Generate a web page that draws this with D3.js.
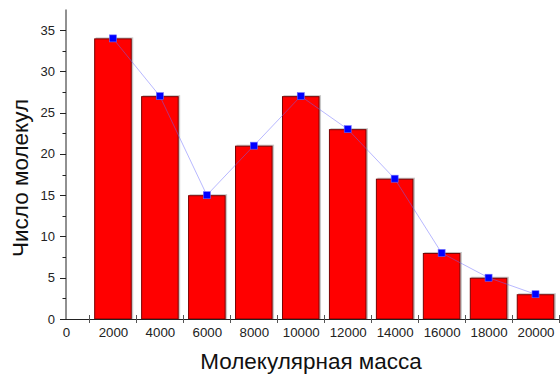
<!DOCTYPE html>
<html>
<head>
<meta charset="utf-8">
<script src="https://cdn.jsdelivr.net/npm/d3@7/dist/d3.min.js"></script>
<style>
  html, body { margin: 0; padding: 0; background: #fff; }
  svg { display: block; font-family: "Liberation Sans", Arial, sans-serif; }
</style>
</head>
<body>
<svg id="chart" width="560" height="374"></svg>
<script>
// Distribution of molecules by molecular mass
const masses = [2000, 4000, 6000, 8000, 10000, 12000, 14000, 16000, 18000, 20000];
const counts = [34, 27, 15, 21, 27, 23, 17, 8, 5, 3];
const xTickLabels = [0, 2000, 4000, 6000, 8000, 10000, 12000, 14000, 16000, 18000, 20000];
const xTickMarks = [1000, 3000, 5000, 7000, 9000, 11000, 13000, 15000, 17000, 19000, 21000];
const yMajorTicks = [0, 5, 10, 15, 20, 25, 30, 35];
const yMinorTicks = [2.5, 7.5, 12.5, 17.5, 22.5, 27.5, 32.5];
const binWidth = 1600;

const svg = d3.select("#chart");
const x = d3.scaleLinear().domain([0, 21000]).range([66, 559]);
const y = d3.scaleLinear().domain([0, 37.5]).range([319, 9.5]);

// bars with a soft grey shadow on the right and top
const bars = svg.append("g");
masses.forEach((m, i) => {
  const x0 = x(m - binWidth / 2), x1 = x(m + binWidth / 2);
  bars.append("rect")
    .attr("x", x0 + 1.5).attr("y", y(counts[i]) - 1)
    .attr("width", x1 - x0).attr("height", y(0) - y(counts[i]) + 1)
    .attr("fill", "#c8c8c8");
  bars.append("rect")
    .attr("x", x0 + 0.5).attr("y", y(counts[i]) + 0.5)
    .attr("width", x1 - x0 - 1).attr("height", y(0) - y(counts[i]) - 0.5)
    .attr("fill", "#ff0000").attr("stroke", "#7a0000").attr("stroke-width", 1);
});

// connecting line through bin tops
const line = d3.line().x((d, i) => x(masses[i])).y(d => y(d));
svg.append("path")
  .datum(counts)
  .attr("d", line)
  .attr("fill", "none")
  .attr("stroke", "#6a6aff")
  .attr("stroke-opacity", 0.6)
  .attr("stroke-width", 0.8);

// square markers
svg.append("g").selectAll("rect")
  .data(counts)
  .join("rect")
  .attr("x", (d, i) => x(masses[i]) - 3.5)
  .attr("y", d => y(d) - 3.5)
  .attr("width", 7).attr("height", 7)
  .attr("fill", "#0000ff")
  .attr("stroke", "#6a6aff").attr("stroke-width", 0.6);

// y axis
const yAxis = svg.append("g").attr("transform", "translate(66,0)");
yAxis.append("line")
  .attr("x1", 0).attr("x2", 0).attr("y1", y(37.5)).attr("y2", y(0))
  .attr("stroke", "#222").attr("stroke-width", 1);
yAxis.selectAll(".maj").data(yMajorTicks).join("line")
  .attr("x1", -6).attr("x2", 0)
  .attr("y1", d => Math.round(y(d)) + 0.5).attr("y2", d => Math.round(y(d)) + 0.5)
  .attr("stroke", "#222");
yAxis.selectAll(".min").data(yMinorTicks).join("line")
  .attr("x1", -3.5).attr("x2", 0)
  .attr("y1", d => Math.round(y(d)) + 0.5).attr("y2", d => Math.round(y(d)) + 0.5)
  .attr("stroke", "#222");
yAxis.selectAll("text").data(yMajorTicks).join("text")
  .attr("x", -11).attr("y", d => y(d))
  .attr("dy", "0.35em")
  .attr("text-anchor", "end")
  .attr("font-size", 13)
  .attr("fill", "#222")
  .text(d => d);

// x axis
const xAxis = svg.append("g");
xAxis.append("line")
  .attr("x1", 66).attr("x2", 559).attr("y1", 319.5).attr("y2", 319.5)
  .attr("stroke", "#222").attr("stroke-width", 1);
xAxis.selectAll(".tk").data(xTickMarks).join("line")
  .attr("x1", d => Math.round(x(d)) + 0.5).attr("x2", d => Math.round(x(d)) + 0.5)
  .attr("y1", 315).attr("y2", 323)
  .attr("stroke", "#555");
xAxis.selectAll("text").data(xTickLabels).join("text")
  .attr("x", d => x(d) + 0.5).attr("y", 337)
  .attr("text-anchor", "middle")
  .attr("font-size", 13.3)
  .attr("fill", "#222")
  .text(d => d);

// axis titles
svg.append("text")
  .attr("transform", "translate(28,178) rotate(-90)")
  .attr("text-anchor", "middle")
  .attr("font-size", 22.5)
  .attr("fill", "#111")
  .text("Число молекул");
svg.append("text")
  .attr("x", 311).attr("y", 368.5)
  .attr("text-anchor", "middle")
  .attr("font-size", 22.5)
  .attr("fill", "#111")
  .text("Молекулярная масса");
</script>
</body>
</html>
